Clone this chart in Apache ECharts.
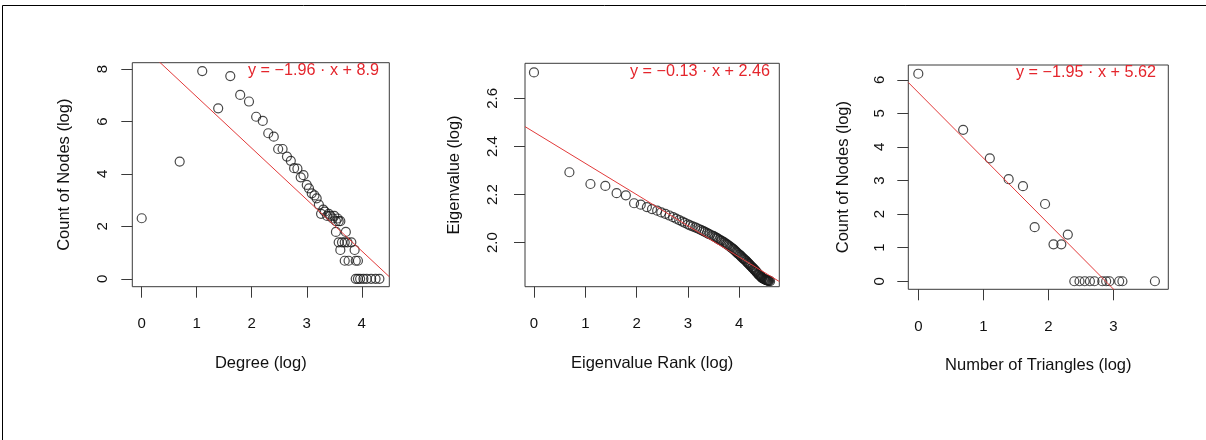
<!DOCTYPE html>
<html><head><meta charset="utf-8">
<script src="https://cdn.jsdelivr.net/npm/echarts@6/dist/echarts.min.js"></script>
<style>html,body{margin:0;padding:0;background:#fff}#c{width:1206px;height:440px}</style>
</head><body><div id="c"></div>
<script>
// ---- data ----
const degreePoints = [
  [0,2.31],[0.69,4.47],[1.10,7.92],[1.39,6.50],[1.61,7.73],[1.79,7.01],[1.95,6.76],[2.08,6.18],
  [2.20,6.02],[2.30,5.55],[2.40,5.42],[2.48,4.95],[2.56,4.95],[2.64,4.66],[2.71,4.50],[2.77,4.22],
  [2.83,4.20],[2.89,3.87],[2.94,3.95],[3.00,3.58],[3.04,3.45],[3.09,3.26],[3.14,3.18],[3.18,3.07],
  [3.22,2.83],[3.26,2.48],[3.30,2.64],[3.33,2.56],[3.37,2.40],[3.40,2.48],[3.43,2.40],[3.47,2.30],
  [3.50,2.40],[3.53,2.20],[3.56,2.30],[3.58,2.20],[3.61,2.20],[3.53,1.79],[3.58,1.39],[3.61,1.10],
  [3.64,1.39],[3.69,1.39],[3.71,1.79],[3.74,1.39],[3.69,0.69],[3.76,0.69],[3.81,1.39],[3.87,1.10],
  [3.89,0.69],[3.93,0.69],[3.89,0],[3.93,0],[3.97,0],[4.03,0],[4.09,0],[4.17,0],[4.25,0],[4.32,0]
];
const eigenPoints = [
  [0,2.708],[0.69,2.293],[1.10,2.244],[1.39,2.236],[1.61,2.206],[1.79,2.197],[1.95,2.164],[2.08,2.158],
  [2.20,2.148],[2.30,2.140],[2.40,2.133],[2.48,2.126],[2.56,2.120],[2.64,2.113],[2.71,2.106],[2.77,2.100],
  [2.83,2.094],[2.89,2.088],[2.94,2.082],[3.00,2.076],[3.04,2.072],[3.09,2.068],[3.14,2.064],[3.18,2.060],
  [3.22,2.056],[3.26,2.052],[3.30,2.048],[3.33,2.045],[3.37,2.041],[3.40,2.037],[3.43,2.034],[3.47,2.030],
  [3.50,2.027],[3.53,2.023],[3.56,2.020],[3.58,2.017],[3.61,2.013],[3.64,2.010],[3.66,2.007],[3.69,2.003],
  [3.71,2.000],[3.74,1.996],[3.76,1.993],[3.78,1.990],[3.81,1.986],[3.83,1.982],[3.85,1.979],[3.87,1.975],
  [3.89,1.972],[3.91,1.968],[3.93,1.964],[3.95,1.960],[3.97,1.956],[3.99,1.952],[4.01,1.949],[4.03,1.945],
  [4.04,1.942],[4.06,1.938],[4.08,1.935],[4.09,1.932],[4.11,1.929],[4.13,1.925],[4.14,1.922],[4.16,1.918],
  [4.17,1.915],[4.19,1.912],[4.20,1.909],[4.22,1.905],[4.23,1.902],[4.25,1.898],[4.26,1.895],[4.28,1.892],
  [4.29,1.889],[4.30,1.886],[4.32,1.883],[4.33,1.880],[4.34,1.877],[4.36,1.873],[4.37,1.870],[4.38,1.867],
  [4.39,1.865],[4.41,1.862],[4.42,1.860],[4.43,1.857],[4.44,1.855],[4.45,1.853],[4.47,1.851],[4.48,1.850],
  [4.49,1.848],[4.50,1.847],[4.51,1.846],[4.52,1.845],[4.53,1.844],[4.54,1.843],[4.55,1.843],[4.56,1.842],
  [4.57,1.842],[4.58,1.841],[4.60,1.840]
];
const trianglePoints = [
  [0,6.18],[0.69,4.51],[1.10,3.66],[1.39,3.04],[1.61,2.83],[1.79,1.61],[1.95,2.30],[2.08,1.10],
  [2.20,1.10],[2.30,1.39],[2.40,0],[2.48,0],[2.56,0],[2.64,0],[2.71,0],[2.83,0],[2.89,0],[2.94,0],
  [3.09,0],[3.14,0],[3.64,0]
];
const fitSlopes = [-1.96, -0.13, -1.95];
const fitIntercepts = [8.9, 2.46, 5.62];
const fitLabels = ['y = \u22121.96 \u00b7 x + 8.9', 'y = \u22120.13 \u00b7 x + 2.46', 'y = \u22121.95 \u00b7 x + 5.62'];
const xTickValues = [[0,1,2,3,4],[0,1,2,3,4],[0,1,2,3]];
const yTickValues = [[0,2,4,6,8],[2.0,2.2,2.4,2.6],[0,1,2,3,4,5,6]];
const yTickDecimals = [0,1,0];
const xTitles = ['Degree (log)','Eigenvalue Rank (log)','Number of Triangles (log)'];
const yTitles = ['Count of Nodes (log)','Eigenvalue (log)','Count of Nodes (log)'];
const panelData = [degreePoints, eigenPoints, trianglePoints];

// ---- layout / style ----
const FONT = "'Liberation Sans', Arial, Helvetica, sans-serif";
const panels = [
  {left:132.3, top:62.7, width:257, height:224, xMin:-0.171, xMax:4.50, yMin:-0.30, yMax:8.24, ylm:22, yng:59, eqLeft:248, eqTop:72},
  {left:525, top:63.3, width:254.3, height:223.4, xMin:-0.175, xMax:4.78, yMin:1.817, yMax:2.746, ylm:25, yng:62, eqLeft:630, eqTop:73},
  {left:908.3, top:65, width:260, height:224.3, xMin:-0.154, xMax:3.846, yMin:-0.24, yMax:6.44, ylm:21, yng:56, eqLeft:1016, eqTop:74}
];
const grids = [], xAxes = [], yAxes = [], series = [], graphics = [];
panels.forEach((p, i) => {
  grids.push({left:p.left, top:p.top, width:p.width, height:p.height, show:true, borderColor:'#3a3a3a', borderWidth:1, backgroundColor:'transparent'});
  xAxes.push({
    type:'value', gridIndex:i, min:p.xMin, max:p.xMax,
    axisLine:{show:false, onZero:false}, splitLine:{show:false},
    axisTick:{show:true, inside:false, length:11, customValues:xTickValues[i], lineStyle:{color:'#3a3a3a'}},
    axisLabel:{customValues:xTickValues[i], margin:30, fontSize:15, color:'#111', fontFamily:FONT},
    name:xTitles[i], nameLocation:'middle', nameGap:68,
    nameTextStyle:{fontSize:16.5, color:'#111', fontFamily:FONT}
  });
  yAxes.push({
    type:'value', gridIndex:i, min:p.yMin, max:p.yMax,
    axisLine:{show:false, onZero:false}, splitLine:{show:false},
    axisTick:{show:true, inside:false, length:11, customValues:yTickValues[i], lineStyle:{color:'#3a3a3a'}},
    axisLabel:{customValues:yTickValues[i], rotate:90, margin:p.ylm, fontSize:15, color:'#111', fontFamily:FONT,
      formatter:(v)=>Number(v).toFixed(yTickDecimals[i])},
    name:yTitles[i], nameLocation:'middle', nameGap:p.yng,
    nameTextStyle:{fontSize:16.5, color:'#111', fontFamily:FONT}
  });
  series.push({
    type:'scatter', xAxisIndex:i, yAxisIndex:i, data:panelData[i],
    symbol:'circle', symbolSize:9,
    itemStyle:{color:'rgba(0,0,0,0)', borderColor:'#1a1a1a', borderWidth:1.2},
    silent:true
  });
  const xs = [p.xMin, p.xMax];
  series.push({
    type:'line', xAxisIndex:i, yAxisIndex:i, clip:true, symbol:'none', silent:true,
    data: xs.map(x => [x, fitSlopes[i]*x + fitIntercepts[i]]),
    lineStyle:{color:'#e23a3a', width:1}
  });
  graphics.push({type:'text', left:p.eqLeft, top:p.eqTop-9, style:{text:fitLabels[i], fill:'#e4252c', font:'16.2px '+FONT}});
});
graphics.push({type:'line', shape:{x1:2.5, y1:5.5, x2:1206, y2:5.5}, style:{stroke:'#000', lineWidth:1}});
graphics.push({type:'line', shape:{x1:2.5, y1:5.5, x2:2.5, y2:440}, style:{stroke:'#000', lineWidth:1}});

const chart = echarts.init(document.getElementById('c'), null, {renderer:'canvas'});
chart.setOption({
  animation:false, backgroundColor:'#fff',
  grid:grids, xAxis:xAxes, yAxis:yAxes, series:series, graphic:graphics
});
</script>
</body></html>
